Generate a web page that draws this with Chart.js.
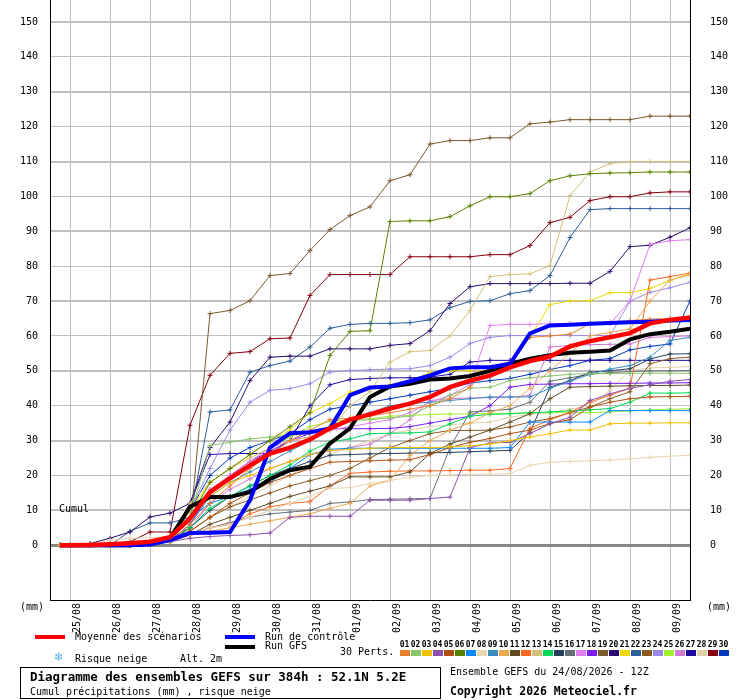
<!DOCTYPE html>
<html>
<head>
<meta charset="utf-8">
<script src="https://cdn.jsdelivr.net/npm/chart.js@4.4.1/dist/chart.umd.min.js"></script>
<style>
  body { margin: 0; background: #fff; }
  #wrap { position: relative; width: 740px; height: 700px; font-family: "DejaVu Sans Mono", "Liberation Mono", monospace; font-size: 10px; color: #000; }
  #c { position: absolute; left: 0; top: 0; }
  .t { position: absolute; white-space: pre; line-height: 1; }
  .bar { position: absolute; height: 4px; width: 30px; }
  .sw { position: absolute; width: 10px; height: 6px; top: 650px; }
  .num { position: absolute; top: 640px; width: 11px; text-align: center; font-size: 8px; font-weight: bold; }
  #box { position: absolute; left: 20px; top: 667px; width: 419px; height: 30px; border: 1px solid #000; }
</style>
</head>
<body>
<div id="wrap">
  <canvas id="c" width="740" height="700"></canvas>
  <div class="t" style="left:59px;top:504px;">Cumul</div>
  <div class="t" style="left:20px;top:602px;">(mm)</div>
  <div class="t" style="left:707px;top:602px;">(mm)</div>

  <div class="bar" style="left:35px;top:635px;background:#ff0000;"></div>
  <div class="t" style="left:75px;top:632px;">Moyenne des scénarios</div>
  <div class="bar" style="left:225px;top:635px;background:#0000ff;"></div>
  <div class="t" style="left:265px;top:632px;">Run de contrôle</div>
  <div class="bar" style="left:225px;top:645px;background:#000;"></div>
  <div class="t" style="left:265px;top:641px;">Run GFS</div>
  <div class="t" style="left:340px;top:647px;">30 Perts.</div>
  <div class="t" style="left:54px;top:651px;font-size:12px;color:#5ab4e6;font-family:'DejaVu Sans';">❄</div>
  <div class="t" style="left:75px;top:654px;">Risque neige</div>
  <div class="t" style="left:180px;top:654px;">Alt. 2m</div>

  <div id="box"></div>
  <div class="t" style="left:30px;top:671px;font-size:12.5px;font-weight:bold;">Diagramme des ensembles GEFS sur 384h : 52.1N 5.2E</div>
  <div class="t" style="left:30px;top:687px;">Cumul précipitations (mm) , risque neige</div>
  <div class="t" style="left:450px;top:667px;">Ensemble GEFS du 24/08/2026 - 12Z</div>
  <div class="t" style="left:450px;top:686px;font-size:11.5px;font-weight:bold;">Copyright 2026 Meteociel.fr</div>
</div>
<script>
// forecast hours of the points (run 24/08 12Z)
const HOURS = [6, 12, 24, 36, 48, 60, 72, 84, 96, 108, 120, 132, 144, 156, 168, 180, 192, 204, 216, 228, 240, 252, 264, 276, 288, 300, 312, 324, 336, 348, 360, 372, 384];
// 00Z of each day
const DAY_HOURS = [12, 36, 60, 84, 108, 132, 156, 180, 204, 228, 252, 276, 300, 324, 348, 372];
const DAY_LABELS = ['25/08', '26/08', '27/08', '28/08', '29/08', '30/08', '31/08', '01/09', '02/09', '03/09', '04/09', '05/09', '06/09', '07/09', '08/09', '09/09'];

const MEAN    = [0,0,0.1,0.3,0.6,1,2.3,7.7,15.2,19.2,22.9,26.3,28,30.3,33.5,36,37.5,39.2,40.6,42.5,45.3,47.2,48.6,51,52.8,54.1,57,58.5,59.6,60.8,63.6,64.6,65.3];
const CONTROL = [0,0,0,0,0,0.2,1.5,3.5,3.6,3.8,12.9,28,32.1,32.4,33.5,43,45.2,45.5,47,48.7,50.7,51,51,52,60.7,63,63.2,63.5,63.7,63.9,64.1,64.4,64.6];
const GFS     = [0,0,0,0,0,0.5,2,11,13.8,13.8,15.3,19,21.5,22.5,29.2,33.5,42.5,45.5,46.3,47.5,47.8,48.5,50,52,53.5,54.5,55.2,55.5,55.8,59,60.5,61.2,62.1];

const P01 = [0,0,0,0,0,0.3,1,6,12,17,22,26,30,33,36,36.4,37,38,39,40,42,45.3,51,52.5,59.6,60,60.5,63.5,64,64.4,64.8,65,65.4];
const P02 = [0,0,0,0,0,0.3,1,8,28.6,29.5,30.5,31,31.5,32,34,35.8,36,36.5,37,40,43,45,45.3,47.2,48,48.5,49,49.2,49.2,49.3,49.3,49.3,49.3];
const P03 = [0,0,0,0,0,0.5,2,8,14,18,20,22,24,26,27.2,27.5,27.8,28,28,28,28.2,28.5,29,30,31,32,33,33,34.8,35,35,35.1,35.1];
const P04 = [0,0,0,0,0,0.3,1,2,2.5,2.8,3,3.5,8,8.3,8.3,8.3,12.9,12.9,12.9,13.4,13.8,28,29.3,29.5,32,34.8,36.7,41.5,43.4,45,46,47,47.5];
const P05 = [0,0,0,0,0,0.3,1,4,8,12,15,18,20,22,23.8,24,24.2,24.4,24.5,26,28,29.5,30.6,32,33,34.9,36,39.6,41,42,42.5,42.6,42.7];
const P06 = [0,0,0,0,0,0.5,1.5,8,18,22,26,30,34,38,54.4,61.3,61.5,92.8,93,93,94.2,97.3,99.9,99.9,100.8,104.5,105.9,106.5,106.7,106.8,107,107,107];
const P07 = [0,0,0,0,0,0.5,2,8,12,14,16,18,22,26,27.5,27.8,27.8,27.8,27.8,27.8,27.8,27.8,27.8,28,35.3,35.3,35.3,35.3,38.6,38.6,38.6,38.6,38.6];
const P08 = [0,0,0,1.5,2,2.2,2.5,3,5,6,8,10,12,14,16.3,16.5,17.7,18.6,19.5,20,20.2,20.3,20.4,20.5,22.9,23.8,24,24.2,24.4,24.8,25.2,25.5,25.8];
const P09 = [0,0,0,0,0,0.3,1,6,14,18,21,24,27,30,34,36,38,40,40.6,41,41.5,42,42.5,42.5,42.5,45,47,49,50.5,51.5,53.9,58.7,59.6];
const P10 = [0,0,0,0,0,0.3,1,3,4,5,6,7,8,9,10.6,12,17,18.6,25.8,30,33,35,38,40,45,50,55,60,61,62,70,76,77.5];
const P11 = [0,0,0,0,0,0.3,1,3,6,8,10,12,14,15.5,17,19.6,19.6,19.6,21,26.3,29,31,33,35.3,37.7,42,45.3,45.5,45.6,45.7,45.8,45.8,45.9];
const P12 = [0,0,0,0,0,0.3,1,3,5,6,9,11,12,12.5,17,20.6,21,21.2,21.3,21.3,21.4,21.5,21.5,22,33.5,36,38,41,43,45,76,77,78];
const P13 = [0,0,0,0,0,0.3,1,12,18,22,25,28,30,31,33,40,44,52.5,55.5,55.8,60,67.3,77,77.6,77.8,80.2,100.2,107,109.4,110,110,110,110];
const P14 = [0,0,0,0,0,0.3,1,5,10.6,14,17,20,23,27,29.6,30.5,32,32.1,32.2,32.5,34.8,37,37.5,37.7,38,38.2,38.5,38.8,39.2,41,43.6,43.6,43.7];
const P15 = [0,0,0,0,0,0.3,1,5,10,14,17,20,22,24,25.8,26,26.2,26.3,26.4,26.5,26.6,26.8,27,27.2,32.4,45.3,47.2,49.6,50,50.6,53.4,54.8,54.9];
const P16 = [0,0,0,0,0,0.3,1,3,5,6.5,8,9,9.5,10,12,12.4,13.1,13.2,13.3,13.4,28,38.2,38.5,39,41,47,48,49,49.5,49.8,50,50,50.1];
const P17 = [0,0,0,0,0,0.5,1,8,16,20,24,28,30,31,33,34,35,36,38,41,43,46,63,63.3,63.3,63.5,63.5,63.5,63.5,70,86.2,87.3,87.6];
const P18 = [0,0,0,0,0,0.3,1,6,15,20,24,27,30,32,33.4,33.4,33.4,33.5,34,35,36,37,40,45.3,46.1,46.2,46.3,46.3,46.4,46.4,46.5,46.5,46.6];
const P19 = [0,0,0,0,0.5,1,2,5,66.4,67.3,70.1,77.3,77.9,84.5,90.5,94.5,97,104.5,106.2,115,116,116,116.8,116.8,120.8,121.3,122,122,122,122,123,123,123];
const P20 = [0,0,0.5,2,3.8,8.1,9.2,12,28,35.3,47.2,53.9,54.2,54.2,56.3,56.3,56.3,57.3,57.8,61.5,69.3,74.1,75,75,75,75,75.1,75.1,78.5,85.6,86,88.3,91];
const P21 = [0,0,0,0,0,0.5,2,10,18,22,26,30,33,38,40.6,43.9,45,46,47,49.5,50,50,50,52,59.6,69,70,70.1,72.4,72.4,73.6,75.9,77.9];
const P22 = [0,0,0,0,4,6.4,6.4,8,38.2,38.8,49.6,51.5,52.8,56.8,62.2,63.3,63.6,63.6,63.8,64.6,68.1,69.9,70.1,72.1,73,77.3,88.2,96.2,96.5,96.5,96.5,96.5,96.5];
const P23 = [0,0,0,0,0,0.3,1,4,8,11,13,15,17,18.5,20,22,25,28,30,32,32.9,32.9,33,33.9,35.3,36.3,38,39.6,42,44,52,53.5,53.9];
const P24 = [0,0,0,0,0,0.5,2,10,22,33,41,44.4,44.9,46.3,49.6,50.1,50.3,50.5,50.6,51.5,53.9,57.8,59.6,60.1,60.1,60.1,60.1,60.1,60.1,70,72.5,73.8,75.4];
const P25 = [0,0,0,0,0,0.5,2,10,16,20,24,28,31,34,35.5,36,36.2,37,37.2,37.5,37.6,37.7,37.8,37.8,37.9,38,38,38,38.2,38.5,38.8,39,39.1];
const P26 = [0,0,0,0,0,0.3,1,5,12,16,19,22,24,26,27,28,29,32,36,41.5,42,42.2,42.3,42.4,43,56.8,57.3,57.5,57.6,57.7,59.6,59.8,60];
const P27 = [0,0,0,0,0,0.5,2,12,26,26.3,26.3,26.3,30,40,46,47.5,47.8,48,48,48.2,49,52.5,53,53,53,53,53,53,53,53,53,53,53];
const P28 = [0,0,0,0,0,0.3,1,4,8,11,14,17,20,23,26,28,30,32,33,34,34.5,35,35.3,36.7,37.5,38,39,40,44.4,50.1,50.8,51,51.2];
const P29 = [0,0,0,0.5,1,3.8,3.8,34.4,48.7,55,55.5,59.2,59.4,71.6,77.6,77.6,77.6,77.6,82.7,82.7,82.7,82.7,83.3,83.3,85.9,92.5,94,98.8,99.9,99.9,101,101.3,101.3];
const P30 = [0,0,0,0,0,0.5,2,10,20,25,28,30,32,36,39,40,41,42,43,44,45,46.5,47.2,47.8,49,50.4,51.5,53,53.5,56,57,57.7,70];

const MEMBERS = [P01,P02,P03,P04,P05,P06,P07,P08,P09,P10,P11,P12,P13,P14,P15,P16,P17,P18,P19,P20,P21,P22,P23,P24,P25,P26,P27,P28,P29,P30];
const MEMBER_COLORS = ['#e8812e','#88c46a','#f0c000','#8d52ab','#b05010','#5a8200','#0a88ff','#e8d6b0','#3a8ebf','#e8a850',
                       '#5e4a1e','#f86820','#d2c07a','#00d858','#26405a','#667078','#e07ef0','#7a1cf2','#7a5a2e','#2a0a6e',
                       '#f0d800','#2a5e9a','#8a5a20','#9a8ae8','#a0f030','#d27ad6','#1e0aa0','#e0d0a8','#880010','#0038c0'];

const FONT = '"DejaVu Sans Mono", "Liberation Mono", monospace';
const pts = arr => arr.map((v, i) => ({ x: HOURS[i], y: v }));

// legend swatches of the perturbations
const wrap = document.getElementById('wrap');
MEMBER_COLORS.forEach((c, i) => {
  const n = document.createElement('div');
  n.className = 'num';
  n.style.left = (399 + 11 * i) + 'px';
  n.textContent = String(i + 1).padStart(2, '0');
  wrap.appendChild(n);
  const s = document.createElement('div');
  s.className = 'sw';
  s.style.left = (400 + 11 * i) + 'px';
  s.style.background = c;
  wrap.appendChild(s);
});

const datasets = [
  { data: pts(MEAN), borderColor: '#ff0000', borderWidth: 4.5, pointRadius: 0, order: 0 },
  { data: pts(CONTROL), borderColor: '#0000ff', borderWidth: 4, pointRadius: 0, order: 1 },
  { data: pts(GFS), borderColor: '#000000', borderWidth: 4, pointRadius: 0, order: 2 }
];
MEMBERS.forEach((m, i) => {
  datasets.push({
    data: pts(m), borderColor: MEMBER_COLORS[i], borderWidth: 1,
    pointStyle: 'cross', pointRadius: 2.5, pointBorderWidth: 1,
    pointBorderColor: MEMBER_COLORS[i], order: 3
  });
});

const yGridColor = c => {
  const v = c.tick ? c.tick.value : 0;
  if (v < 0) return 'rgba(0,0,0,0)';
  return v === 0 ? '#888888' : '#c0c0c0';
};
const yGridWidth = c => {
  const v = c.tick ? c.tick.value : 0;
  if (v === 0) return 3;
  return (Math.round(v / 10) % 2 === 1) ? 2 : 1;
};
const yLabel = v => (v < 0 ? '' : v);
// the plot box is fixed: 50..690 across, 0..600 down
const noPad = s => { s.paddingTop = 0; s.paddingBottom = 0; s.paddingLeft = 0; s.paddingRight = 0; };

new Chart(document.getElementById('c').getContext('2d'), {
  type: 'line',
  data: { datasets },
  options: {
    responsive: false,
    animation: false,
    devicePixelRatio: 1,
    layout: { padding: 0, autoPadding: false },
    plugins: { legend: { display: false }, tooltip: { enabled: false } },
    elements: { line: { tension: 0 } },
    scales: {
      x: {
        type: 'linear', min: 0, max: 384, position: 'bottom',
        afterFit: s => { s.height = 100; noPad(s); },
        afterBuildTicks: s => { s.ticks = DAY_HOURS.map(v => ({ value: v })); },
        ticks: {
          autoSkip: false, minRotation: 90, maxRotation: 90, labelOffset: 7, padding: 3,
          color: '#000', font: { family: FONT, size: 10 },
          callback: (v, i) => DAY_LABELS[i]
        },
        grid: { color: '#c0c0c0', lineWidth: 1, drawTicks: false },
        border: { color: '#000', width: 1 }
      },
      y: {
        position: 'left', min: -15.7, max: 156.3,
        afterFit: s => { s.width = 50; noPad(s); },
        ticks: { stepSize: 10, includeBounds: false, padding: 12, color: '#000', font: { family: FONT, size: 10 }, callback: yLabel },
        grid: { drawTicks: false, color: yGridColor, lineWidth: yGridWidth },
        border: { color: '#000', width: 1 }
      },
      y2: {
        position: 'right', min: -15.7, max: 156.3,
        afterFit: s => { s.width = 50; noPad(s); },
        ticks: { stepSize: 10, includeBounds: false, padding: 20, color: '#000', font: { family: FONT, size: 10 }, callback: yLabel },
        grid: { drawTicks: false, color: 'rgba(0,0,0,0)' },
        border: { color: '#000', width: 1 }
      }
    }
  }
});
</script>
</body>
</html>
